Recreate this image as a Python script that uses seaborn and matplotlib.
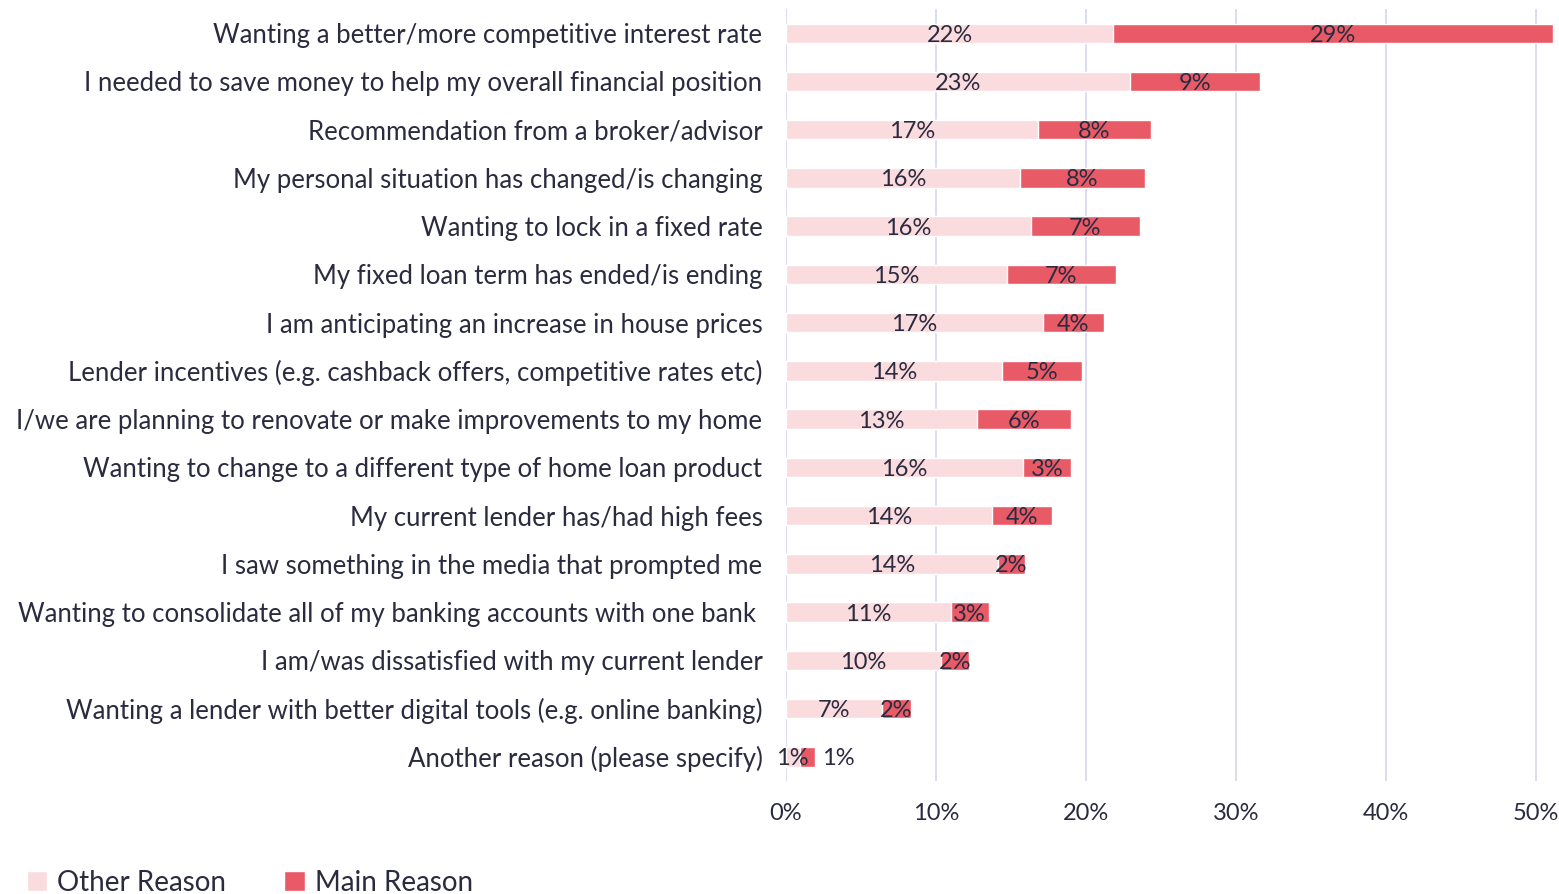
import matplotlib
matplotlib.use("Agg")
import matplotlib.pyplot as plt
import seaborn as sns
import pandas as pd
import numpy as np
from matplotlib.patches import Patch

categories = [
    "Wanting a better/more competitive interest rate",
    "I needed to save money to help my overall financial position",
    "Recommendation from a broker/advisor",
    "My personal situation has changed/is changing",
    "Wanting to lock in a fixed rate",
    "My fixed loan term has ended/is ending",
    "I am anticipating an increase in house prices",
    "Lender incentives (e.g. cashback offers, competitive rates etc)",
    "I/we are planning to renovate or make improvements to my home",
    "Wanting to change to a different type of home loan product",
    "My current lender has/had high fees",
    "I saw something in the media that prompted me",
    "Wanting to consolidate all of my banking accounts with one bank ",
    "I am/was dissatisfied with my current lender",
    "Wanting a lender with better digital tools (e.g. online banking)",
    "Another reason (please specify)",
]
other_vals = [21.8, 22.9, 16.8, 15.6, 16.3, 14.7, 17.1, 14.4, 12.7, 15.8, 13.7, 14.1, 11.0, 10.3, 6.4, 0.9]
main_vals = [29.3, 8.7, 7.5, 8.3, 7.3, 7.3, 4.1, 5.3, 6.3, 3.2, 4.0, 1.8, 2.5, 1.9, 1.9, 1.0]
other_labels = ["22%", "23%", "17%", "16%", "16%", "15%", "17%", "14%", "13%", "16%", "14%", "14%", "11%", "10%", "7%", "1%"]
main_labels = ["29%", "9%", "8%", "8%", "7%", "7%", "4%", "5%", "6%", "3%", "4%", "2%", "3%", "2%", "2%", "1%"]
x_ticks = [0, 10, 20, 30, 40, 50]
x_tick_labels = ["0%", "10%", "20%", "30%", "40%", "50%"]

PINK = "#FADCDF"
RED = "#E95A67"
TEXT = "#2B2B40"
GRID = "#D9D9F0"

sns.set_theme(style="white")
plt.rcParams["font.family"] = ["Lato", "DejaVu Sans"]

df = pd.DataFrame({"cat": categories, "other": other_vals, "main": main_vals})
df["total"] = df["other"] + df["main"]

fig = plt.figure(figsize=(15.59, 8.94), dpi=100)
ax = fig.add_axes([0.5042, 0.1264, 0.4955, 0.8635])

sns.barplot(data=df, y="cat", x="total", color=RED, orient="h", width=0.4,
            saturation=1, ax=ax, order=categories)
sns.barplot(data=df, y="cat", x="other", color=PINK, orient="h", width=0.4,
            saturation=1, ax=ax, order=categories)

ax.set_xlim(0, 51.5)
ax.set_ylim(15.5, -0.5)
ax.set_xticks(x_ticks)
ax.set_xticklabels(x_tick_labels)
ax.set_xlabel("")
ax.set_ylabel("")
for x in x_ticks:
    ax.axvline(x, color=GRID, lw=1.3, zorder=0)
for s in ax.spines.values():
    s.set_visible(False)
ax.tick_params(axis="x", length=0, pad=16, labelsize=17, labelcolor=TEXT)
ax.tick_params(axis="y", length=0, pad=17, labelsize=18.5, labelcolor=TEXT)

n = len(categories)
for i in range(n):
    o = other_vals[i]
    m = main_vals[i]
    ax.text(o / 2, i, other_labels[i], ha="center", va="center_baseline",
            fontsize=17, color=TEXT)
    if i == n - 1:
        ax.text(o + m + 0.5, i, main_labels[i], ha="left", va="center_baseline",
                fontsize=17, color=TEXT)
    else:
        ax.text(o + m / 2, i, main_labels[i], ha="center", va="center_baseline",
                fontsize=17, color=TEXT)

handles = [Patch(facecolor=PINK, label="Other Reason"),
           Patch(facecolor=RED, label="Main Reason")]
fig.legend(handles=handles, loc="lower left", bbox_to_anchor=(0.001, -0.03),
           ncol=2, frameon=False, fontsize=20, labelcolor=TEXT,
           handlelength=0.75, handleheight=0.75, handletextpad=0.35,
           columnspacing=2.1)

fig.savefig("out.png", dpi=100)
